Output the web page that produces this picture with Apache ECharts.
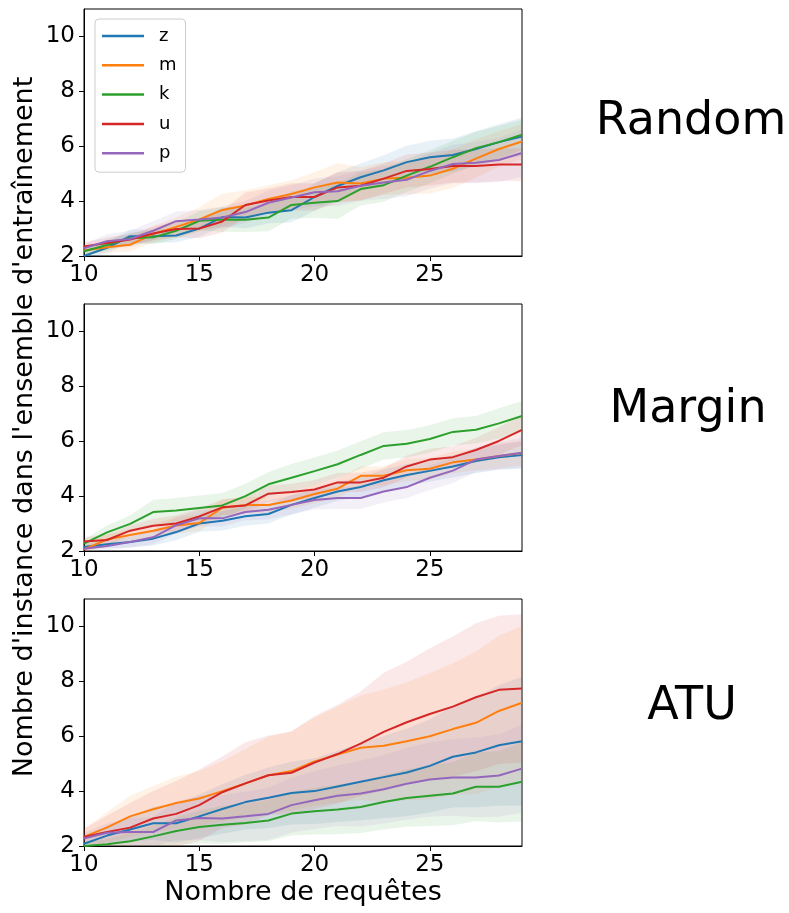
<!DOCTYPE html>
<html>
<head>
<meta charset="utf-8">
<script src="https://cdn.jsdelivr.net/npm/echarts@6/dist/echarts.min.js"></script>
<style>
html,body{margin:0;padding:0;background:#fff;}
#chart{width:789px;height:913px;}
</style>
</head>
<body>
<div id="chart"></div>
<script>
// ---- data ----
const xs = [10,11,12,13,14,15,16,17,18,19,20,21,22,23,24,25,26,27,28,29];
const seriesNames = ['z','m','k','u','p'];
const panelTitles = ['Random','Margin','ATU'];
const xTicks = [10,15,20,25];
const yTicks = [2,4,6,8,10];

// Random
const rand_z = [2.0,2.3,2.72,2.72,2.75,3.0,3.42,3.4,3.58,3.67,4.15,4.55,4.87,5.12,5.42,5.6,5.68,5.9,6.15,6.35];
const rand_m = [2.2,2.32,2.41,2.8,3.06,3.33,3.68,3.84,4.08,4.26,4.5,4.68,4.64,4.82,4.85,4.93,5.18,5.55,5.9,6.17];
const rand_k = [2.17,2.4,2.65,2.68,2.92,3.28,3.33,3.32,3.4,3.86,3.94,4.0,4.44,4.58,4.93,5.25,5.6,5.93,6.15,6.42];
const rand_u = [2.35,2.47,2.6,2.82,2.98,3.0,3.26,3.86,4.02,4.15,4.15,4.5,4.56,4.82,5.1,5.17,5.28,5.28,5.33,5.33];
const rand_p = [2.28,2.54,2.62,2.92,3.27,3.33,3.4,3.6,3.94,4.13,4.32,4.36,4.56,4.68,4.78,5.1,5.35,5.4,5.5,5.75];
const rand_z_sd = [0.15,0.2,0.25,0.25,0.25,0.3,0.35,0.4,0.4,0.45,0.5,0.5,0.5,0.55,0.6,0.6,0.6,0.65,0.65,0.7];
const rand_m_sd = [0.15,0.2,0.25,0.3,0.35,0.45,0.6,0.55,0.5,0.5,0.55,0.7,0.6,0.6,0.6,0.65,0.7,0.7,0.65,0.65];
const rand_k_sd = [0.15,0.2,0.2,0.25,0.3,0.35,0.45,0.45,0.5,0.5,0.55,0.65,0.6,0.6,0.6,0.6,0.6,0.6,0.6,0.55];
const rand_u_sd = [0.15,0.2,0.2,0.25,0.3,0.35,0.4,0.45,0.45,0.5,0.5,0.55,0.55,0.55,0.6,0.6,0.6,0.6,0.6,0.6];
const rand_p_sd = [0.15,0.25,0.3,0.35,0.35,0.35,0.4,0.4,0.45,0.45,0.5,0.55,0.55,0.6,0.6,0.65,0.7,0.75,0.8,0.85];

// Margin
const marg_z = [2.15,2.25,2.33,2.45,2.69,3.0,3.1,3.27,3.35,3.68,3.93,4.17,4.33,4.58,4.77,4.92,5.08,5.28,5.42,5.5];
const marg_m = [2.06,2.42,2.58,2.74,2.93,3.02,3.58,3.68,3.68,3.84,4.08,4.27,4.74,4.74,4.94,5.0,5.23,5.33,5.46,5.57];
const marg_k = [2.27,2.68,2.99,3.42,3.48,3.57,3.66,4.0,4.43,4.67,4.91,5.16,5.5,5.83,5.91,6.08,6.34,6.42,6.65,6.92];
const marg_u = [2.35,2.4,2.74,2.92,3.0,3.26,3.59,3.66,4.09,4.15,4.24,4.5,4.5,4.67,5.08,5.33,5.42,5.68,6.01,6.41];
const marg_p = [2.08,2.18,2.33,2.5,2.94,3.19,3.19,3.42,3.5,3.68,3.86,3.93,3.93,4.17,4.33,4.67,4.93,5.33,5.46,5.58];
const marg_z_sd = [0.1,0.15,0.2,0.25,0.3,0.3,0.35,0.35,0.35,0.35,0.35,0.35,0.35,0.4,0.4,0.4,0.4,0.45,0.45,0.5];
const marg_m_sd = [0.15,0.2,0.2,0.25,0.3,0.3,0.3,0.3,0.3,0.3,0.35,0.35,0.35,0.35,0.4,0.4,0.4,0.4,0.45,0.45];
const marg_k_sd = [0.15,0.25,0.3,0.45,0.45,0.45,0.45,0.45,0.45,0.5,0.5,0.5,0.5,0.5,0.5,0.5,0.5,0.5,0.55,0.55];
const marg_u_sd = [0.15,0.2,0.2,0.25,0.3,0.3,0.3,0.3,0.3,0.3,0.35,0.35,0.35,0.35,0.4,0.4,0.4,0.45,0.5,0.55];
const marg_p_sd = [0.1,0.15,0.2,0.25,0.3,0.3,0.3,0.3,0.35,0.35,0.35,0.4,0.4,0.4,0.4,0.45,0.45,0.45,0.5,0.55];

// ATU
const atu_z = [2.08,2.38,2.6,2.83,2.83,3.08,3.35,3.6,3.76,3.93,4.0,4.17,4.34,4.51,4.68,4.92,5.25,5.41,5.67,5.82];
const atu_m = [2.33,2.68,3.08,3.34,3.57,3.73,4.0,4.28,4.58,4.73,5.08,5.33,5.58,5.65,5.82,6.0,6.26,6.49,6.92,7.22];
const atu_k = [2.0,2.06,2.17,2.35,2.55,2.69,2.77,2.84,2.93,3.18,3.27,3.33,3.42,3.6,3.75,3.83,3.91,4.16,4.16,4.34];
const atu_u = [2.33,2.51,2.67,3.0,3.17,3.49,3.96,4.28,4.58,4.67,5.04,5.35,5.73,6.16,6.51,6.81,7.08,7.42,7.69,7.74];
const atu_p = [2.27,2.48,2.51,2.51,2.93,3.02,3.0,3.08,3.17,3.49,3.67,3.83,3.91,4.07,4.27,4.42,4.5,4.5,4.57,4.82];
const atu_z_sd = [0.15,0.3,0.45,0.6,0.7,0.8,0.9,1.0,1.1,1.15,1.2,1.3,1.4,1.5,1.6,1.7,1.85,2.0,2.2,2.35];
const atu_m_sd = [0.3,0.55,0.75,0.85,0.95,1.0,1.1,1.25,1.4,1.45,1.6,1.75,1.9,2.05,2.15,2.3,2.4,2.6,2.75,2.8];
const atu_k_sd = [0.1,0.2,0.3,0.4,0.5,0.6,0.7,0.7,0.75,0.8,0.85,0.9,0.95,1.0,1.05,1.1,1.15,1.25,1.3,1.45];
const atu_u_sd = [0.3,0.6,0.9,1.0,1.2,1.3,1.3,1.5,1.45,1.5,1.7,1.8,1.9,2.15,2.2,2.4,2.55,2.7,2.7,2.7];
const atu_p_sd = [0.2,0.35,0.5,0.55,0.7,0.8,0.85,0.9,0.95,1.0,1.05,1.1,1.2,1.25,1.3,1.35,1.4,1.45,1.5,1.6];

// ---- build ----
const colors = ['#1f77b4','#ff7f0e','#2ca02c','#d62728','#9467bd'];
const panels = [
  {means:[rand_z,rand_m,rand_k,rand_u,rand_p], sds:[rand_z_sd,rand_m_sd,rand_k_sd,rand_u_sd,rand_p_sd]},
  {means:[marg_z,marg_m,marg_k,marg_u,marg_p], sds:[marg_z_sd,marg_m_sd,marg_k_sd,marg_u_sd,marg_p_sd]},
  {means:[atu_z,atu_m,atu_k,atu_u,atu_p], sds:[atu_z_sd,atu_m_sd,atu_k_sd,atu_u_sd,atu_p_sd]}
];
const FONT = 'DejaVu Sans';
const gridTops = [9, 304, 599];
const gridH = 247;
const grids = [], xAxes = [], yAxes = [], series = [];

function bandSeries(gi, si, m, sd) {
  const lower = xs.map((x,i) => m[i] - sd[i]);
  const upper = xs.map((x,i) => m[i] + sd[i]);
  return {
    type:'custom', xAxisIndex:gi, yAxisIndex:gi, silent:true, z:1,
    data: xs.map((x,i) => [x, lower[i], upper[i]]),
    encode:{x:0, y:[1,2]},
    renderItem: function(params, api) {
      if (params.dataIndex !== 0) return null;
      const pts = [];
      for (let i = 0; i < xs.length; i++) pts.push(api.coord([xs[i], upper[i]]));
      for (let i = xs.length - 1; i >= 0; i--) pts.push(api.coord([xs[i], lower[i]]));
      const cs = params.coordSys;
      return {
        type:'polygon',
        shape:{points:pts},
        style:{fill:colors[si], opacity:0.1, stroke:null},
        clipPath:{type:'rect', shape:{x:cs.x, y:cs.y, width:cs.width, height:cs.height}}
      };
    }
  };
}

panels.forEach((p, gi) => {
  grids.push({left:84, width:438, top:gridTops[gi], height:gridH, show:true, borderColor:'#000', borderWidth:1, backgroundColor:'transparent'});
  xAxes.push({type:'value', gridIndex:gi, min:10, max:29, interval:5,
    axisLine:{show:true, lineStyle:{color:'#000', width:1}},
    axisTick:{show:true, inside:false, length:5, lineStyle:{color:'#000'}},
    axisLabel:{show:true, color:'#000', fontFamily:FONT, fontSize:23, margin:8, showMaxLabel:false,
      formatter: v => xTicks.indexOf(v) >= 0 ? String(v) : ''},
    splitLine:{show:false}});
  yAxes.push({type:'value', gridIndex:gi, min:2, max:11, interval:2,
    axisLine:{show:true, lineStyle:{color:'#000', width:1}},
    axisTick:{show:true, inside:false, length:5, lineStyle:{color:'#000'}},
    axisLabel:{show:true, color:'#000', fontFamily:FONT, fontSize:23, margin:9, showMaxLabel:false,
      formatter: v => yTicks.indexOf(v) >= 0 ? String(v) : ''},
    splitLine:{show:false}});
  p.means.forEach((m, si) => series.push(bandSeries(gi, si, m, p.sds[si])));
  p.means.forEach((m, si) => {
    series.push({name:seriesNames[si], type:'line', xAxisIndex:gi, yAxisIndex:gi, symbol:'none',
      lineStyle:{color:colors[si], width:2}, itemStyle:{color:colors[si]},
      data: xs.map((x,i)=>[x, m[i]]), z:2+si});
  });
});

const chart = echarts.init(document.getElementById('chart'), null, {renderer:'canvas'});
chart.setOption({
  animation:false,
  color:colors,
  grid:grids, xAxis:xAxes, yAxis:yAxes, series:series,
  legend:{
    data: seriesNames.map(n => ({name:n, icon:'rect'})),
    orient:'vertical', left:95, top:19,
    itemWidth:42, itemHeight:2.5, itemGap:9.3,
    padding:[7,9,9,7],
    backgroundColor:'rgba(255,255,255,0.8)', borderColor:'#cccccc', borderWidth:1, borderRadius:4,
    textStyle:{fontFamily:FONT, fontSize:18, color:'#000', lineHeight:20, padding:[0,0,0,10]},
    selectedMode:false
  },
  graphic:[
    {type:'text', x:691, y:122, style:{text:panelTitles[0], font:'46px "DejaVu Sans"', fill:'#000', textAlign:'center', textVerticalAlign:'middle'}},
    {type:'text', x:688, y:410, style:{text:panelTitles[1], font:'46px "DejaVu Sans"', fill:'#000', textAlign:'center', textVerticalAlign:'middle'}},
    {type:'text', x:692, y:707, style:{text:panelTitles[2], font:'46px "DejaVu Sans"', fill:'#000', textAlign:'center', textVerticalAlign:'middle'}},
    {type:'text', x:25, y:427, rotation:Math.PI/2, style:{text:"Nombre d'instance dans l'ensemble d'entraînement", font:'27px "DejaVu Sans"', fill:'#000', textAlign:'center', textVerticalAlign:'middle'}},
    {type:'text', x:303, y:893, style:{text:'Nombre de requêtes', font:'27px "DejaVu Sans"', fill:'#000', textAlign:'center', textVerticalAlign:'middle'}}
  ]
});
</script>
</body>
</html>
